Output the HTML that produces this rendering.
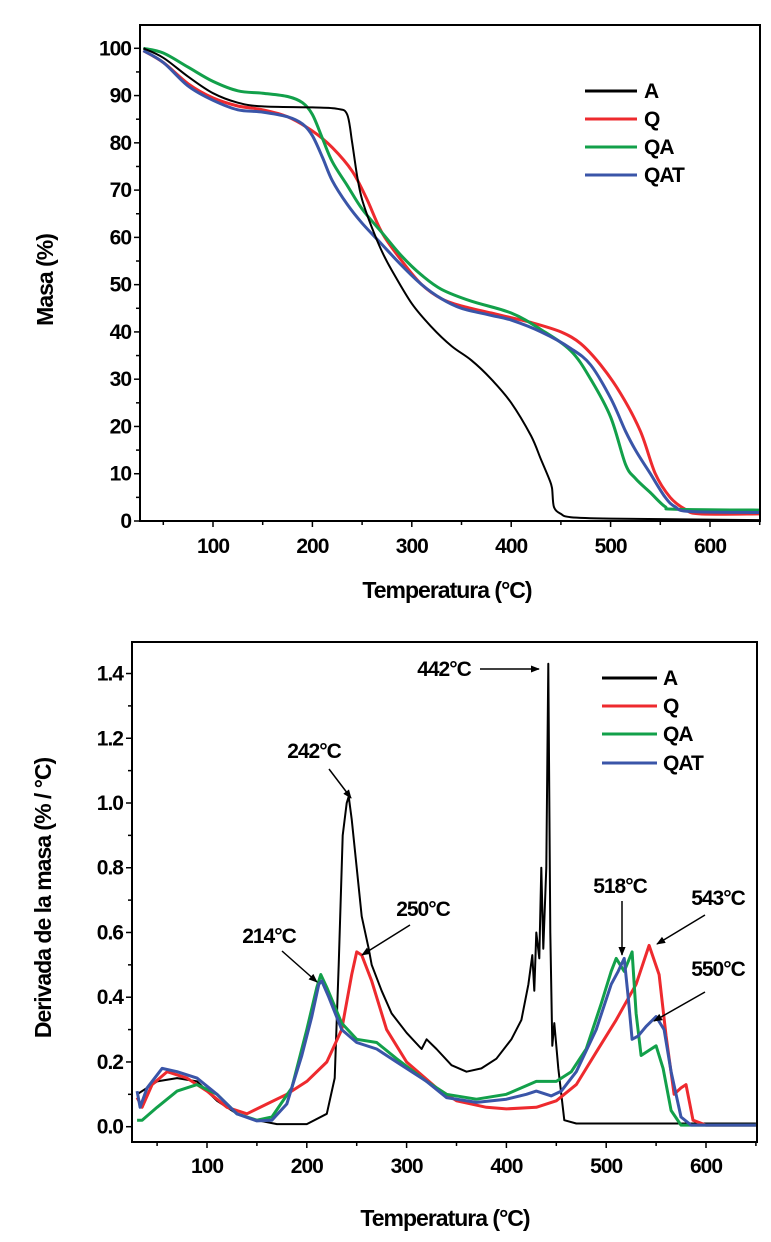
<!DOCTYPE html>
<html><head><meta charset="utf-8">
<style>
html,body{margin:0;padding:0;background:#fff;}
svg{display:block;font-family:"Liberation Sans",Arial,sans-serif;font-weight:bold;}
</style></head>
<body>
<svg id="fig" width="771" height="1242" viewBox="0 0 771 1242" xmlns="http://www.w3.org/2000/svg">
<defs>
<marker id="ah" viewBox="0 0 10 10" refX="9" refY="5" markerWidth="6" markerHeight="6" orient="auto-start-reverse"><path d="M0,1 L10,5 L0,9 z" fill="#000"/></marker>
</defs>
</svg>
<script>
// ---------- DATA: top chart (TGA, mass %) ----------
const tgaTicksX = [100,200,300,400,500,600];
const tgaTicksY = [0,10,20,30,40,50,60,70,80,90,100];
const tgaA_T = [30,50,75,100,125,150,200,225,235,240,245,250,260,270,280,300,320,340,360,380,400,420,430,438,441,443,450,460,500,600,650];
const tgaA_M = [100,98,94,90.5,88.5,87.7,87.5,87.2,86,80,73,68,62,57,53,46,41,37,34,30,25,18,13,9,7,3,1.5,0.8,0.5,0.3,0.2];
const tgaQ_T = [30,50,75,100,125,150,175,200,220,240,255,270,290,310,330,350,380,400,420,450,470,490,510,530,545,560,575,590,650];
const tgaQ_M = [99.5,97,92.5,89.5,87.8,87,85.5,82.5,79,74,68,61,55,50,47,45.5,44,43,42,40,37.5,33,27,19,10,5,2.5,1.5,1.5];
const tgaQA_T = [30,50,75,100,125,150,175,190,200,210,220,235,250,270,290,310,330,360,400,430,460,480,500,515,525,540,555,565,650];
const tgaQA_M = [100,99,96,93,91,90.5,89.8,88.5,86,81,76,71,66,61,56,52,49,46.5,44,40.5,36,30,22,12,9,6,3,2.5,2.3];
const tgaQAT_T = [30,50,75,100,125,150,175,190,200,210,220,235,250,270,290,310,330,350,380,400,430,460,480,500,515,525,540,555,565,580,650];
const tgaQAT_M = [99.5,97,92,89,87,86.5,85.5,84,81.5,77,72,67,63,58.5,54,50,47,45,43.5,42.5,40,36.5,33,26,19,15,10,5,3,2,1.8];

// ---------- DATA: bottom chart (DTG) ----------
const dtgTicksX = [100,200,300,400,500,600];
const dtgTicksY = [0.0,0.2,0.4,0.6,0.8,1.0,1.2,1.4];
const dtgA_T = [30,40,50,70,90,110,130,150,170,200,220,228,232,236,240,242,245,250,255,262,265,275,285,300,315,320,330,345,360,375,390,405,415,422,426,428,430,433,435,437,440,442,444,446,448,452,458,470,650];
const dtgA_V = [0.10,0.12,0.14,0.15,0.14,0.08,0.04,0.02,0.008,0.008,0.04,0.15,0.5,0.9,1.0,1.02,0.95,0.8,0.65,0.55,0.5,0.42,0.35,0.29,0.24,0.27,0.24,0.19,0.17,0.18,0.21,0.27,0.33,0.44,0.53,0.42,0.6,0.52,0.8,0.55,0.8,1.43,0.6,0.25,0.32,0.18,0.02,0.01,0.01];
const dtgQ_T = [30,35,45,60,80,100,120,140,160,180,200,220,235,245,250,255,265,280,300,330,350,380,400,430,450,470,490,510,530,543,553,560,568,575,580,587,600,650];
const dtgQ_V = [0.09,0.06,0.13,0.17,0.15,0.11,0.06,0.04,0.07,0.10,0.14,0.2,0.3,0.47,0.54,0.53,0.45,0.3,0.2,0.12,0.08,0.06,0.055,0.06,0.08,0.13,0.23,0.33,0.44,0.56,0.47,0.28,0.1,0.12,0.13,0.02,0.005,0.005];
const dtgQA_T = [30,35,50,70,90,110,130,150,165,185,200,210,214,220,235,250,270,290,320,340,370,400,430,450,465,480,495,505,510,518,526,530,535,545,550,557,565,575,650];
const dtgQA_V = [0.02,0.02,0.06,0.11,0.13,0.1,0.04,0.02,0.03,0.12,0.3,0.43,0.47,0.43,0.32,0.27,0.26,0.21,0.14,0.1,0.085,0.1,0.14,0.14,0.17,0.24,0.38,0.48,0.52,0.48,0.54,0.35,0.22,0.24,0.25,0.18,0.05,0.005,0.005];
const dtgQAT_T = [30,33,40,55,70,90,110,130,150,165,180,195,205,212,215,222,235,250,270,290,320,340,370,400,420,430,445,455,470,490,505,512,518,522,526,532,540,550,558,565,575,585,650];
const dtgQAT_V = [0.11,0.06,0.12,0.18,0.17,0.15,0.1,0.04,0.018,0.02,0.07,0.22,0.34,0.44,0.45,0.4,0.3,0.26,0.24,0.2,0.14,0.09,0.075,0.085,0.1,0.11,0.095,0.11,0.17,0.3,0.44,0.48,0.52,0.4,0.27,0.28,0.31,0.34,0.3,0.17,0.03,0.005,0.005];

const legendNames = ["A","Q","QA","QAT"];
const colors = ["#000000","#ee2a2e","#12a04a","#3a55a8"];

const NS = "http://www.w3.org/2000/svg";
const svg = document.getElementById('fig');
function mk(tag, attrs, parent){
  const e = document.createElementNS(NS, tag);
  for (const k in attrs) e.setAttribute(k, attrs[k]);
  (parent||svg).appendChild(e);
  return e;
}

const topX = T => 213 + (T-100)*0.994;
const topY = m => 521 - m*4.727;
const botX = T => 207 + (T-100)*0.998;
const botY = v => 1126.7 - v*323.7;

function drawFrame(g, left, right, top, bottom){
  const r = mk('rect',{x:left,y:top,width:right-left,height:bottom-top,fill:'none',stroke:'#000','stroke-width':2},g);
  
  
}
function text(g, x, y, s, size, anchor, name){
  const t = mk('text',{x:x,y:y,'font-size':size,'text-anchor':anchor||'middle','letter-spacing':'-1'},g);
  t.textContent = s;
  
  
  return t;
}
function series(g, Ts, Vs, fx, fy, color, w, name, smooth){
  const P = Ts.map((t,i)=>[fx(t), fy(Vs[i])]);
  let d = 'M'+P[0][0].toFixed(1)+','+P[0][1].toFixed(1);
  for (let i=1;i<P.length;i++){
    if (smooth){
      const p0=P[Math.max(0,i-2)], p1=P[i-1], p2=P[i], p3=P[Math.min(P.length-1,i+1)];
      const c1=[p1[0]+(p2[0]-p0[0])/6, p1[1]+(p2[1]-p0[1])/6];
      const c2=[p2[0]-(p3[0]-p1[0])/6, p2[1]-(p3[1]-p1[1])/6];
      d += 'C'+c1[0].toFixed(1)+','+c1[1].toFixed(1)+' '+c2[0].toFixed(1)+','+c2[1].toFixed(1)+' '+p2[0].toFixed(1)+','+p2[1].toFixed(1);
    } else d += 'L'+P[i][0].toFixed(1)+','+P[i][1].toFixed(1);
  }
  const p = mk('path',{d:d,fill:'none',stroke:color,'stroke-width':w,'stroke-linejoin':'round'},g);
  
  
}
function legend(g, x1, x2, tx, ys, prefix){
  for (let i=0;i<legendNames.length;i++){
    const l = mk('line',{x1:x1,x2:x2,y1:ys[i],y2:ys[i],stroke:colors[i],'stroke-width':3},g);
    
    
    text(g, tx, ys[i]+7, legendNames[i], 21, 'start', prefix+'-legend-label-'+legendNames[i].toLowerCase());
  }
}

// ---------------- TOP CHART ----------------
const gt = mk('g',{});


const tL=140, tR=760, tT=25, tB=521;
for (let m=0;m<=100;m+=5){
  const y = topY(m), major = m%10===0;
  mk('line',{x1:tL-(major?6:4),x2:tL,y1:y,y2:y,stroke:'#000','stroke-width':1.5},gt);
}
tgaTicksY.forEach(v=>text(gt, tL-9, topY(v)+7, String(v), 21, 'end', 'tga-y-tick-'+v));
for (let T=50;T<=650;T+=50){
  const x = topX(T), major = T%100===0;
  mk('line',{x1:x,x2:x,y1:tB,y2:tB+(major?6:4),stroke:'#000','stroke-width':1.5},gt);
}
tgaTicksX.forEach(v=>text(gt, topX(v), tB+32, String(v), 21, 'middle', 'tga-x-tick-'+v));
const clipT = mk('clipPath',{id:'clipT'},gt); mk('rect',{x:tL,y:tT,width:tR-tL,height:tB-tT},clipT);
const gts = mk('g',{'clip-path':'url(#clipT)'},gt);


series(gts, tgaQ_T, tgaQ_M, topX, topY, colors[1], 3, 'tga-line-q', true);
series(gts, tgaQA_T, tgaQA_M, topX, topY, colors[2], 3, 'tga-line-qa', true);
series(gts, tgaQAT_T, tgaQAT_M, topX, topY, colors[3], 3, 'tga-line-qat', true);
series(gts, tgaA_T, tgaA_M, topX, topY, colors[0], 2, 'tga-line-a', true);
drawFrame(gt, tL, tR, tT, tB);
legend(gt, 585, 637, 644, [91,119,147,175], 'tga');
text(gt, 447, 598, 'Temperatura (°C)', 23, 'middle', 'tga-x-axis-title');
const ytt = text(gt, 0, 0, 'Masa (%)', 23, 'middle', 'tga-y-axis-title');
ytt.setAttribute('transform','translate(53,280) rotate(-90)');

// ---------------- BOTTOM CHART ----------------
const gb = mk('g',{});


const bL=132, bR=757, bT=642, bB=1142;
for (let i=0;i<=14;i++){
  const v=i/10, y=botY(v), major=i%2===0;
  mk('line',{x1:bL-(major?6:4),x2:bL,y1:y,y2:y,stroke:'#000','stroke-width':1.5},gb);
}
dtgTicksY.forEach(v=>text(gb, bL-9, botY(v)+7, v.toFixed(1), 21, 'end', 'dtg-y-tick-'+v.toFixed(1)));
for (let T=50;T<=650;T+=50){
  const x = botX(T), major = T%100===0;
  mk('line',{x1:x,x2:x,y1:bB,y2:bB+(major?6:4),stroke:'#000','stroke-width':1.5},gb);
}
dtgTicksX.forEach(v=>text(gb, botX(v), bB+31, String(v), 21, 'middle', 'dtg-x-tick-'+v));
const clipB = mk('clipPath',{id:'clipB'},gb); mk('rect',{x:bL,y:bT,width:bR-bL,height:bB-bT},clipB);
const gbs = mk('g',{'clip-path':'url(#clipB)'},gb);


series(gbs, dtgA_T, dtgA_V, botX, botY, colors[0], 2, 'dtg-line-a', false);
series(gbs, dtgQ_T, dtgQ_V, botX, botY, colors[1], 3, 'dtg-line-q', false);
series(gbs, dtgQA_T, dtgQA_V, botX, botY, colors[2], 3, 'dtg-line-qa', false);
series(gbs, dtgQAT_T, dtgQAT_V, botX, botY, colors[3], 3, 'dtg-line-qat', false);
drawFrame(gb, bL, bR, bT, bB);
legend(gb, 602, 657, 663, [678,706,734,763], 'dtg');
text(gb, 445, 1226, 'Temperatura (°C)', 23, 'middle', 'dtg-x-axis-title');
const ytb = text(gb, 0, 0, 'Derivada de la masa (% / °C)', 23, 'middle', 'dtg-y-axis-title');
ytb.setAttribute('transform','translate(51,898) rotate(-90)');

function annot(label, tx, ty, x1, y1, x2, y2, name){
  text(gb, tx, ty+7, label, 21, 'middle', name+'-label');
  const a = mk('line',{x1:x1,y1:y1,x2:x2,y2:y2,stroke:'#000','stroke-width':1.5,'marker-end':'url(#ah)'},gb);
  
  
}
annot('442°C', 444, 669, 480, 669, 539, 669, 'annotation-442');
annot('242°C', 314, 751, 329, 769, 351, 798, 'annotation-242');
annot('250°C', 423, 909, 410, 925, 362, 955, 'annotation-250');
annot('214°C', 269, 936, 282, 951, 317, 982, 'annotation-214');
annot('518°C', 620, 886, 622, 901, 622, 955, 'annotation-518');
annot('543°C', 718, 898, 705, 915, 657, 944, 'annotation-543');
annot('550°C', 718, 969, 705, 992, 654, 1021, 'annotation-550');
</script>
</body></html>
